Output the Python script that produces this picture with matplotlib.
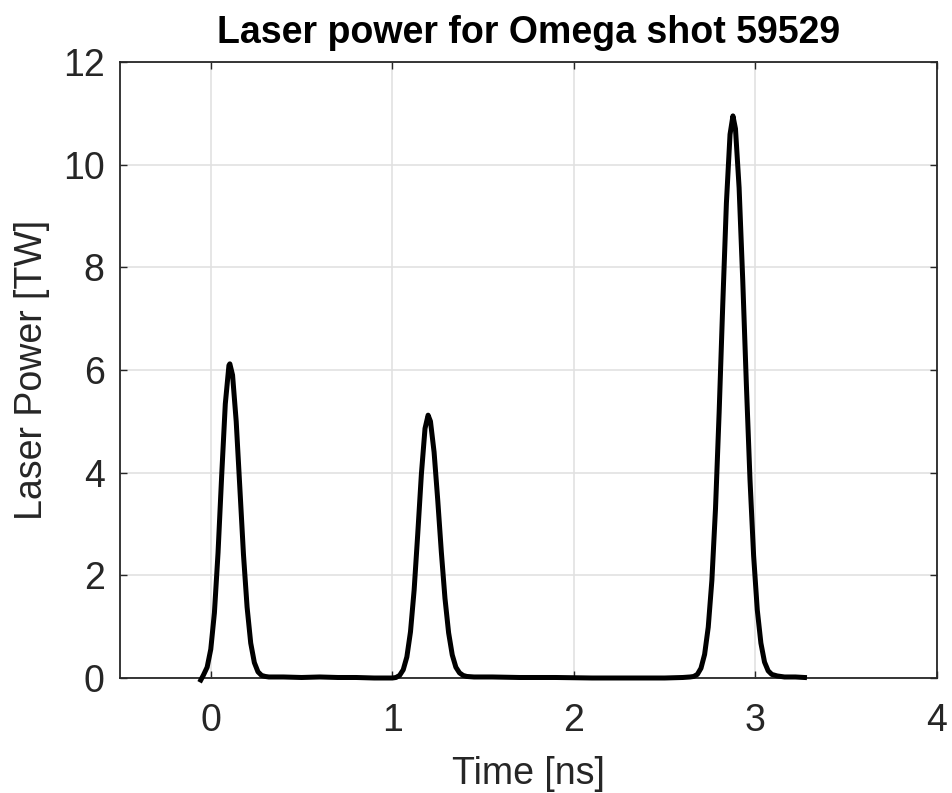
import matplotlib
matplotlib.use("Agg")
import matplotlib.pyplot as plt

plt.rcParams['font.family'] = ['Liberation Sans', 'DejaVu Sans']

# Data
time_ns = [
    -0.055, -0.04, -0.02, 0.00, 0.02, 0.04, 0.06, 0.08, 0.10, 0.105, 0.12, 0.14, 0.16,
    0.18, 0.20, 0.22, 0.24, 0.26, 0.28, 0.30, 0.32,
    0.40, 0.50, 0.60, 0.70, 0.80, 0.90, 1.00, 1.02,
    1.04, 1.06, 1.08, 1.10, 1.12, 1.14, 1.16, 1.18, 1.197, 1.21, 1.23, 1.25, 1.27,
    1.29, 1.31, 1.33, 1.35, 1.37, 1.39, 1.41, 1.45,
    1.55, 1.70, 1.90, 2.10, 2.30, 2.50, 2.60, 2.64,
    2.66, 2.68, 2.70, 2.72, 2.74, 2.76, 2.78, 2.80, 2.82, 2.84, 2.86, 2.876, 2.89,
    2.91, 2.93, 2.95, 2.97, 2.99, 3.01, 3.03, 3.05, 3.07, 3.09, 3.12, 3.16, 3.22, 3.27,
]
power_tw = [
    -0.04, 0.06, 0.21, 0.56, 1.27, 2.44, 3.94, 5.34, 6.09, 6.12, 5.90, 5.00, 3.71,
    2.41, 1.38, 0.68, 0.30, 0.12, 0.05, 0.03, 0.02,
    0.02, 0.01, 0.02, 0.01, 0.01, 0.00, 0.00, 0.01,
    0.05, 0.16, 0.41, 0.90, 1.71, 2.81, 3.97, 4.86, 5.12, 5.00, 4.40, 3.47, 2.45,
    1.55, 0.88, 0.45, 0.21, 0.10, 0.05, 0.03, 0.02,
    0.02, 0.01, 0.01, 0.00, 0.00, 0.00, 0.01, 0.02,
    0.03, 0.07, 0.19, 0.46, 0.99, 1.90, 3.30, 5.17, 7.28, 9.25, 10.59, 10.95, 10.70,
    9.55, 7.75, 5.72, 3.86, 2.38, 1.33, 0.68, 0.31, 0.14, 0.07, 0.04, 0.02, 0.02, 0.01,
]
x_ticks = [0, 1, 2, 3, 4]
y_ticks = [0, 2, 4, 6, 8, 10, 12]

W, H = 953, 793
fig = plt.figure(figsize=(W / 100, H / 100), dpi=100)
ax = fig.add_axes([120 / W, 1 - 678 / H, (937 - 120) / W, (678 - 62) / H])

ax.plot(time_ns, power_tw, color='black', linewidth=3.6, clip_on=False, zorder=3,
        solid_joinstyle='round')

ax.set_xlim(-0.5, 4)
ax.set_ylim(0, 12)
ax.set_xticks(x_ticks)
ax.set_yticks(y_ticks)

gray = '#262626'
ax.grid(True, color='#e1e1e1', linewidth=1.2)
ax.set_axisbelow(True)
for s in ax.spines.values():
    s.set_color(gray)
    s.set_linewidth(1.3)
ax.tick_params(direction='in', length=5, width=1.0, colors=gray,
               labelsize=27, top=True, right=True)
ax.tick_params(axis='x', pad=18)
ax.tick_params(axis='y', pad=11)

ax.set_xlabel('Time [ns]', fontsize=27, color=gray, labelpad=12)
ax.set_ylabel('Laser Power [TW]', fontsize=27, color=gray, labelpad=9)
ax.set_title('Laser power for Omega shot 59529', fontsize=27, fontweight='bold',
             color='black', pad=14)

fig.savefig('out.png', dpi=100)
